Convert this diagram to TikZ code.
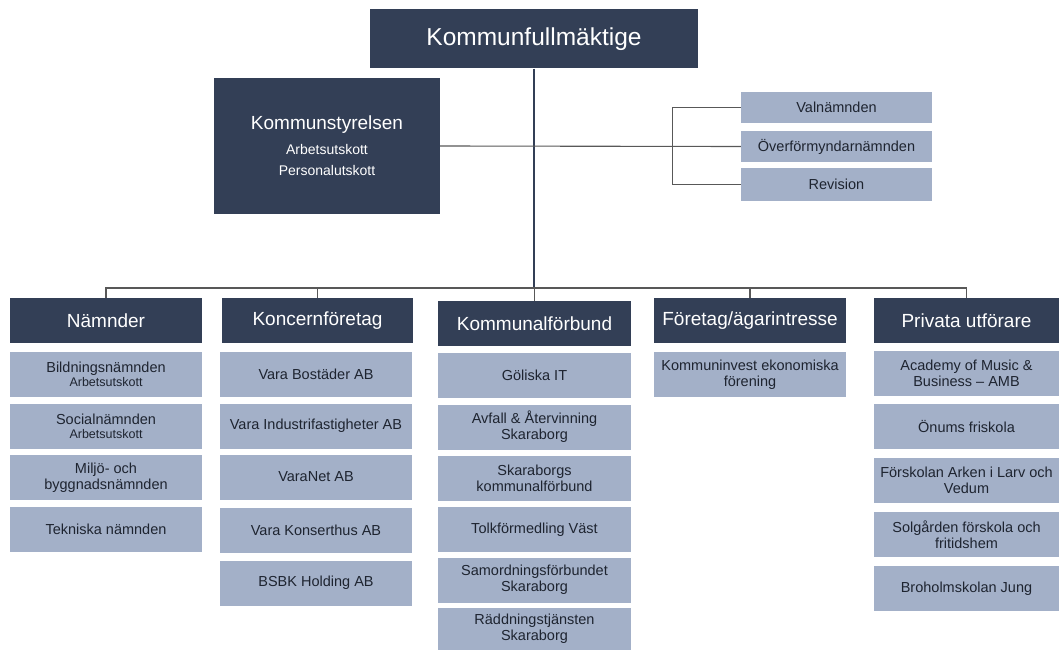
\documentclass[tikz,border=0pt]{standalone}
\usepackage{fontspec}
\setmainfont{Liberation Sans}
\usepackage{xcolor}
\definecolor{navy}{RGB}{51,63,86}
\definecolor{slate}{RGB}{163,176,200}
\definecolor{ink}{RGB}{30,36,48}
\definecolor{linegray}{RGB}{88,88,88}

\begin{document}
\begin{tikzpicture}[x=1pt, y=-1pt,
    head/.style={fill=navy, text=white, inner sep=0pt, align=center, minimum height=45pt, font=\fontsize{19}{22}\selectfont},
    unit/.style={fill=slate, text=ink, inner sep=0pt, align=center, minimum height=45pt, font=\fontsize{14.5}{16}\selectfont},
    wire/.style={draw=linegray, line width=1.1pt}]
    \def\subsize{\fontsize{12.5}{13}\selectfont}
    \useasboundingbox (0,0) rectangle (1059,650);
    % top level
    \node[head, minimum width=328pt, minimum height=59pt, font=\fontsize{24.5}{28}\selectfont] (kf) at (534,39) {Kommunfullmäktige};
    \node[head, minimum width=226pt, minimum height=135pt, font=\fontsize{14}{21}\selectfont] (ks) at (327,146)
        {{\fontsize{19}{22}\selectfont Kommunstyrelsen}\\[4pt] Arbetsutskott\\ Personalutskott};
    \node[unit, minimum width=191pt, minimum height=31pt] (val) at (836.5,107.5) {Valnämnden};
    \node[unit, minimum width=191pt, minimum height=31pt] (ovf) at (836.5,146.5) {Överförmyndarnämnden};
    \node[unit, minimum width=191pt, minimum height=33pt] (rev) at (836.5,184.5) {Revision};
    \coordinate (bus) at (534,288);
    \draw[draw=navy, line width=2pt] (kf.south) -- (bus);
    \draw[wire] (ks.east) -- (ovf.west);
    \draw[wire] (val.west) -- ++(-68,0) |- (rev.west);
    % column heads
    \node[head, minimum width=192pt] (nam) at (106,320.5) {Nämnder};
    \node[head, minimum width=191pt] (kon) at (317.5,320.5) {Koncernföretag};
    \node[head, minimum width=193pt] (kfb) at (534.5,323.5) {Kommunalförbund};
    \node[head, minimum width=192pt] (fag) at (750,320.5) {Företag/ägarintresse};
    \node[head, minimum width=185pt] (pri) at (966.5,320.5) {Privata utförare};
    \draw[wire] (nam.north) -- (nam.north |- bus) -- (pri.north |- bus) -- (pri.north);
    \foreach \h in {kon,kfb,fag}
        \draw[wire] (\h.north) -- (\h.north |- bus);
    % Nämnder
    \node[unit, minimum width=192pt] (nam1) at (106,374) {Bildningsnämnden\\[-2pt] {\subsize Arbetsutskott}};
    \node[unit, minimum width=192pt] (nam2) at (106,426) {Socialnämnden\\[-2pt] {\subsize Arbetsutskott}};
    \node[unit, minimum width=192pt] (nam3) at (106,477.5) {Miljö- och\\ byggnadsnämnden};
    \node[unit, minimum width=192pt] (nam4) at (106,529.5) {Tekniska nämnden};
    % Koncernföretag
    \node[unit, minimum width=192pt] (kon1) at (316,374) {Vara Bostäder AB};
    \node[unit, minimum width=192pt] (kon2) at (316,426) {Vara Industrifastigheter AB};
    \node[unit, minimum width=192pt] (kon3) at (316,477) {VaraNet AB};
    \node[unit, minimum width=192pt] (kon4) at (316,530) {Vara Konserthus AB};
    \node[unit, minimum width=192pt] (kon5) at (316,583) {BSBK Holding AB};
    % Kommunalförbund
    \node[unit, minimum width=193pt] (kfb1) at (534.5,375.5) {Göliska IT};
    \node[unit, minimum width=193pt] (kfb2) at (534.5,427) {Avfall \& Återvinning\\ Skaraborg};
    \node[unit, minimum width=193pt] (kfb3) at (534.5,478) {Skaraborgs\\ kommunalförbund};
    \node[unit, minimum width=193pt] (kfb4) at (534.5,529.5) {Tolkförmedling Väst};
    \node[unit, minimum width=193pt] (kfb5) at (534.5,580) {Samordningsförbundet\\ Skaraborg};
    \node[unit, minimum width=193pt, minimum height=42pt] (kfb6) at (534.5,629) {Räddningstjänsten\\ Skaraborg};
    % Företag/ägarintresse
    \node[unit, minimum width=192pt] (fag1) at (750,374.5) {Kommuninvest ekonomiska\\ förening};
    % Privata utförare
    \node[unit, minimum width=185pt] (pri1) at (966.5,373) {Academy of Music \&\\ Business -- AMB};
    \node[unit, minimum width=185pt] (pri2) at (966.5,426.5) {Önums friskola};
    \node[unit, minimum width=185pt] (pri3) at (966.5,480) {Förskolan Arken i Larv och\\ Vedum};
    \node[unit, minimum width=185pt] (pri4) at (966.5,534.5) {Solgården förskola och\\ fritidshem};
    \node[unit, minimum width=185pt] (pri5) at (966.5,588.5) {Broholmskolan Jung};
\end{tikzpicture}
\end{document}
